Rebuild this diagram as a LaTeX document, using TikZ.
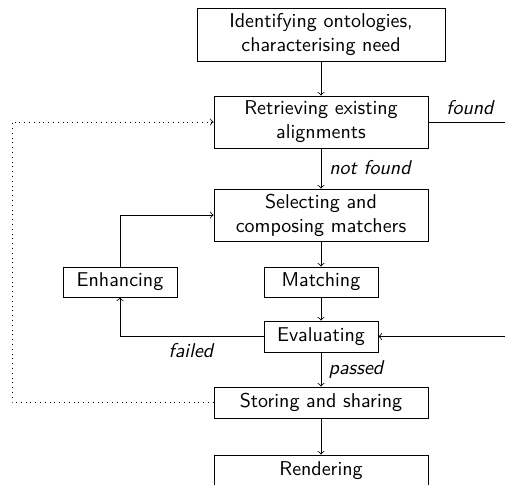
\documentclass[tikz,border=0pt]{standalone}
\usetikzlibrary{positioning}
\begin{document}
\begin{tikzpicture}[x=0.5pt,y=-0.5pt,
  font=\sffamily,
  box/.style={draw, align=center, inner sep=0pt, minimum width=107pt, minimum height=15.5pt},
  sbox/.style={draw, align=center, inner sep=0pt, minimum width=57pt, minimum height=15pt},
  lbl/.style={font=\sffamily\itshape, inner sep=0pt},
  conn/.style={->},
  back/.style={->, dotted}]
\useasboundingbox (0,0) rectangle (505,485);
\node[box, minimum width=124pt, minimum height=26.5pt] (ident) at (321,34.5) {Identifying ontologies,\\characterising need};
\node[box, minimum height=26pt] (retr) at (321,122) {Retrieving existing\\alignments};
\node[box, minimum height=26pt] (sel) at (321,215) {Selecting and\\composing matchers};
\node[sbox] (enh) at (120,282) {Enhancing};
\node[sbox] (match) at (321,282) {Matching};
\node[sbox, minimum height=15.5pt] (eval) at (321,336.5) {Evaluating};
\node[box] (stor) at (321,402.5) {Storing and sharing};
\node[box] (rend) at (321,470.5) {Rendering};
\coordinate (foundEnd) at (505,122);
\coordinate (evalIn) at (505,336.5);
\coordinate (dotCorner) at (12,402.5);
\node[lbl] (found) at (470,108) {found};
\node[lbl] (notfound) at (370,168) {not found};
\node[lbl] (failed) at (191,351) {failed};
\node[lbl] (passed) at (356,370) {passed};
\draw[conn] (ident) -- (retr);
\draw (retr.east) -- (foundEnd);
\draw[conn] (retr) -- (sel);
\draw[conn] (sel) -- (match);
\draw[conn] (match) -- (eval);
\draw[conn] (eval.west) -| (enh.south);
\draw[conn] (enh.north) |- (sel.west);
\draw[conn] (evalIn) -- (eval.east);
\draw[conn] (eval) -- (stor);
\draw[conn] (stor) -- (rend);
\draw[back] (stor.west) -- (dotCorner) |- (retr.west);
\end{tikzpicture}
\end{document}
